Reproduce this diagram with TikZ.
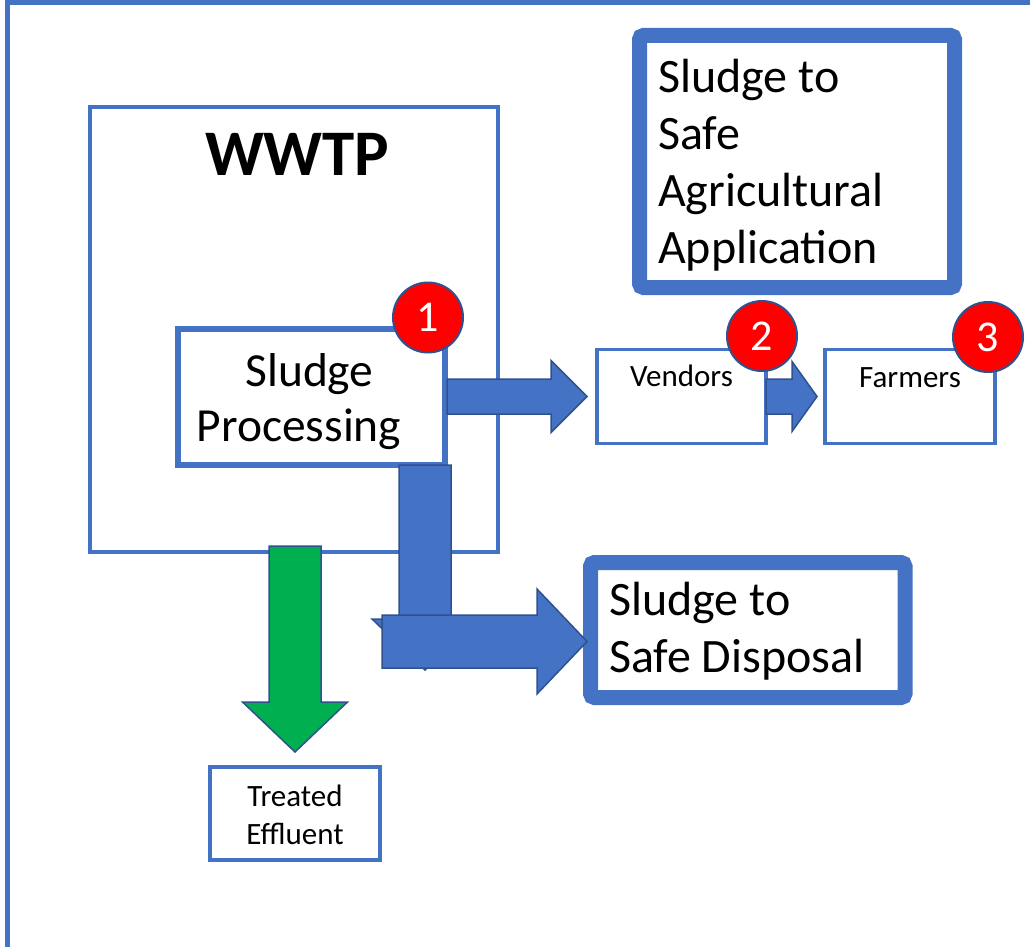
\documentclass[tikz,border=0pt]{standalone}
\usepackage{fontspec}
\setmainfont{Carlito}
\usetikzlibrary{calc}
\definecolor{frameblue}{HTML}{4472C4}
\definecolor{edgeblue}{HTML}{2F528F}
\definecolor{flowgreen}{HTML}{00B050}
\definecolor{badgered}{HTML}{FF0000}

% Block arrow pointing right: tail point, tip point, body half-width, head half-width, head length
\newcommand\rightblock[6][]{%
  \path[#1] let \p1=(#2), \p2=(#3) in
    (\x1,\y2+#4) -- (\x2-#6,\y2+#4) -- (\x2-#6,\y2+#5) -- (\x2,\y2)
    -- (\x2-#6,\y2-#5) -- (\x2-#6,\y2-#4) -- (\x1,\y2-#4) -- cycle;}
% Block arrow pointing down: tail point, tip point, body half-width, head half-width, head length
\newcommand\downblock[6][]{%
  \path[#1] let \p1=(#2), \p2=(#3) in
    (\x2-#4,\y1) -- (\x2-#4,\y2+#6) -- (\x2-#5,\y2+#6) -- (\x2,\y2)
    -- (\x2+#5,\y2+#6) -- (\x2+#4,\y2+#6) -- (\x2+#4,\y1) -- cycle;}

\begin{document}
\begin{tikzpicture}[x=1pt,y=-1pt,
  box/.style={rectangle, draw=frameblue, fill=white, line width=3.5pt, outer sep=0pt, inner sep=0pt},
  heavybox/.style={rectangle, draw=frameblue, fill=white, line width=15pt, rounded corners=4pt, outer sep=0pt, inner sep=0pt},
  blockarrow/.style={fill=frameblue, draw=edgeblue, line width=1.5pt, line join=miter},
  greenarrow/.style={fill=flowgreen, draw=edgeblue, line width=1.5pt, line join=miter},
  badge/.style={circle, fill=badgered, draw=edgeblue, line width=2pt, minimum size=70pt, inner sep=0pt, text=white, font=\fontsize{44}{44}\selectfont},
  lbl/.style={inner sep=0pt, outer sep=0pt},
  big/.style={font=\fontsize{48}{57}\selectfont},
  small/.style={font=\fontsize{31}{38}\selectfont}
]
\useasboundingbox (0,0) rectangle (1030,947);
\clip (0,0) rectangle (1030,947);

% outer frame
\draw[frameblue, line width=5pt] (7.5,2.5) rectangle (1060,970);

% treatment plant
\node[box, line width=4pt, minimum width=408pt, minimum height=445pt] (wwtp) at (294,329.5) {};
\node[lbl, anchor=base west, font=\fontsize{65}{65}\bfseries\selectfont] (wwtpname) at (205,175) {WWTP};

% sludge processing unit (multi-line labels are placed by the baseline of their last line)
\node[box, line width=6pt, minimum width=267pt, minimum height=136pt] (sp) at (311.5,397) {};
\node[lbl, anchor=base, align=center, font=\fontsize{47.5}{55}\selectfont] (sptext) at (299,441) {\hspace*{21pt}Sludge\\Processing};

% receiving boxes
\node[box, minimum width=169pt, minimum height=94pt] (vendors) at (681.5,396.5) {};
\node[lbl, anchor=base, small] (vtext) at (681.5,386) {Vendors};
\node[box, minimum width=170pt, minimum height=94pt] (farmers) at (910,396.5) {};
\node[lbl, anchor=base, small] (ftext) at (910,387) {Farmers};
\node[box, minimum width=170pt, minimum height=93pt] (effluent) at (295,813.5) {};
\node[lbl, anchor=base, align=center, small] (etext) at (295,844) {Treated\\Effluent};

% flows
\rightblock[blockarrow]{[xshift=2pt]sp.east}{[xshift=-10pt]vendors.west}{17.5pt}{36pt}{36pt}
\coordinate (droptip) at (425,670);
\downblock[blockarrow]{[xshift=-20pt]sp.south east}{droptip}{26pt}{53pt}{51pt}
\rightblock[blockarrow]{vendors.east}{[xshift=-8pt]farmers.west}{17.5pt}{35pt}{25pt}
\coordinate (bendtail) at (382,641.5);

% destination boxes
\node[heavybox, minimum width=314.5pt, minimum height=135pt] (disposal) at (747.75,630) {};
\node[lbl, anchor=base west, align=left, big] (dtext) at (609,672) {Sludge to\\Safe Disposal};
\node[heavybox, minimum width=315pt, minimum height=252pt] (agri) at (797,161.5) {};
\node[lbl, anchor=base west, align=left, big] (atext) at (658,263) {Sludge to\\Safe\\Agricultural\\Application};

\rightblock[blockarrow]{bendtail}{[xshift=-3.5pt,yshift=-11.5pt]disposal.west}{26.5pt}{52.5pt}{50pt}
\downblock[greenarrow]{[yshift=6pt]wwtp.south}{[yshift=15pt]effluent.north}{26pt}{52.5pt}{50pt}

% numbered markers
\node[badge] (b1) at (428,317.5) {1};
\node[badge] (b2) at (762,336) {2};
\node[badge] (b3) at (988,337) {3};
\end{tikzpicture}
\end{document}
